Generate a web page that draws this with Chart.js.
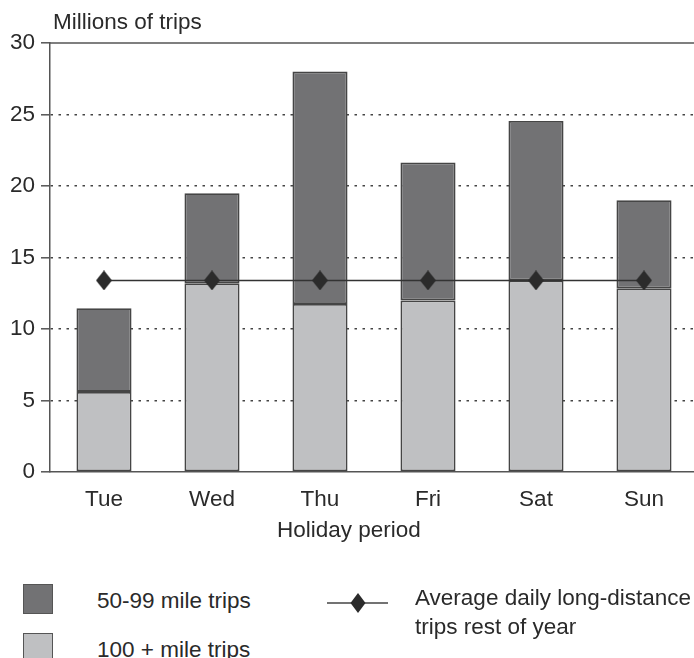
<!DOCTYPE html>
<html lang="en">
<head>
  <meta charset="UTF-8">
  <title>Holiday period long-distance trips</title>
  <script src="https://cdn.jsdelivr.net/npm/chart.js"></script>
  <style>
    html, body {
      margin: 0;
      padding: 0;
      background: #fff;
      overflow: hidden;
    }
    body {
      width: 694px;
      height: 658px;
      position: relative;
      font-family: "Liberation Sans", Arial, sans-serif;
      font-size: 22.5px;
      color: #2a2a2a;
    }
    #chart {
      position: absolute;
      left: 0;
      top: 0;
    }
    .txt {
      position: absolute;
      white-space: nowrap;
      line-height: 26px;
    }
    .swatch {
      position: absolute;
      width: 28px;
      height: 28px;
      border: 1.5px solid #555;
    }
  </style>
</head>
<body>

  <canvas id="chart" width="700" height="560"></canvas>

  <div class="txt" style="left:53px; top:9px;">Millions of trips</div>
  <div class="txt" style="left:277px; top:517px;">Holiday period</div>

  <!-- legend -->
  <div class="swatch" style="left:23px; top:584px; background:#727274;"></div>
  <div class="txt" style="left:97px; top:588px;">50-99 mile trips</div>
  <div class="swatch" style="left:23px; top:633px; background:#bfc0c2;"></div>
  <div class="txt" style="left:97px; top:637px;">100 + mile trips</div>

  <svg style="position:absolute; left:325px; top:590px;" width="66" height="26">
    <line x1="2" y1="13" x2="63" y2="13" stroke="#444" stroke-width="1.5"></line>
    <polygon points="33,3 40.5,13 33,23 25.5,13" fill="#2b2b2b"></polygon>
  </svg>
  <div class="txt" style="left:415px; top:583px; line-height:29px;">Average daily long-distance<br>trips rest of year</div>

  <script>
    // data (millions of trips)
    const days = ['Tue', 'Wed', 'Thu', 'Fri', 'Sat', 'Sun'];
    const trips100plus = [5.6, 13.2, 11.75, 12.0, 13.4, 12.85];
    const trips50to99 = [5.85, 6.3, 16.25, 9.65, 11.15, 6.15];
    const restOfYearAvg = [13.4, 13.4, 13.4, 13.4, 13.4, 13.4];
    const yMin = 0;
    const yMax = 30;
    const yStep = 5;

    const font = { family: '"Liberation Sans", Arial, sans-serif', size: 22.5 };
    const textColor = '#2a2a2a';
    const lineColor = '#555';

    // tall diamond used as point marker
    const diamond = document.createElement('canvas');
    diamond.width = 16;
    diamond.height = 20;
    const dctx = diamond.getContext('2d');
    dctx.fillStyle = '#2b2b2b';
    dctx.beginPath();
    dctx.moveTo(8, 0);
    dctx.lineTo(16, 10);
    dctx.lineTo(8, 20);
    dctx.lineTo(0, 10);
    dctx.closePath();
    dctx.fill();

    // solid frame line along the top of the plot (the 30 line)
    const topLine = {
      id: 'topLine',
      beforeDatasetsDraw(chart) {
        const a = chart.chartArea;
        const y = chart.scales.y.getPixelForValue(yMax);
        const c = chart.ctx;
        c.save();
        c.strokeStyle = lineColor;
        c.lineWidth = 1.5;
        c.beginPath();
        c.moveTo(a.left, y);
        c.lineTo(a.right + 10, y);
        c.stroke();
        c.restore();
      }
    };

    const ctx = document.getElementById('chart').getContext('2d');
    const chart = new Chart(ctx, {
      type: 'bar',
      data: {
        labels: days,
        datasets: [
          {
            label: '100 + mile trips',
            data: trips100plus,
            backgroundColor: '#bfc0c2',
            borderColor: '#454545',
            borderWidth: 1.8,
            borderSkipped: false,
            barPercentage: 0.51,
            categoryPercentage: 1,
            stack: 'trips',
            order: 1
          },
          {
            label: '50-99 mile trips',
            data: trips50to99,
            backgroundColor: '#727274',
            borderColor: '#454545',
            borderWidth: 1.8,
            borderSkipped: false,
            barPercentage: 0.51,
            categoryPercentage: 1,
            stack: 'trips',
            order: 1
          },
          {
            type: 'line',
            label: 'Average daily long-distance trips rest of year',
            data: restOfYearAvg,
            borderColor: '#333',
            borderWidth: 1.5,
            pointStyle: diamond,
            pointRadius: 8,
            stack: 'avg',
            order: 0
          }
        ]
      },
      options: {
        responsive: false,
        animation: false,
        layout: { autoPadding: false, padding: { top: 43, left: 0, right: 2, bottom: 48 } },
        plugins: {
          legend: { display: false },
          tooltip: { enabled: false }
        },
        scales: {
          x: {
            stacked: true,
            afterFit: s => { s.height = 40; },
            ticks: { font: font, color: textColor, padding: 14 },
            grid: { display: false, drawTicks: false },
            border: { color: lineColor, width: 1.5 }
          },
          y: {
            stacked: true,
            min: yMin,
            max: yMax,
            afterFit: s => { s.width = 50; },
            ticks: { stepSize: yStep, font: font, color: textColor, padding: 6 },
            grid: {
              color: c => (c.tick && (c.tick.value === yMin || c.tick.value === yMax)) ? 'rgba(0,0,0,0)' : '#444',
              lineWidth: 1.6,
              tickLength: 9,
              tickColor: lineColor,
              tickWidth: 1.5
            },
            border: { color: lineColor, width: 1.5, dash: [2.5, 5.5] }
          }
        }
      },
      plugins: [topLine]
    });
  </script>
</body>
</html>
